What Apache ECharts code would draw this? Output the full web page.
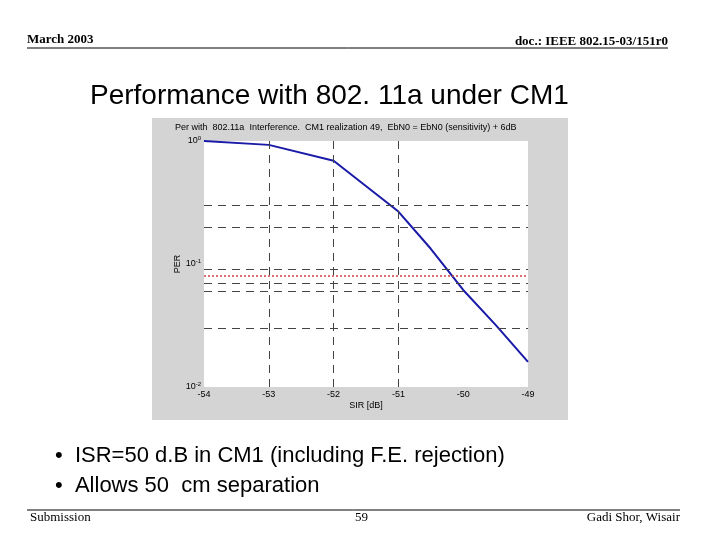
<!DOCTYPE html>
<html>
<head>
<meta charset="utf-8">
<script src="https://cdn.jsdelivr.net/npm/echarts@6/dist/echarts.min.js"></script>
<style>body{margin:0;background:#fff}#chart{width:720px;height:540px}</style>
</head>
<body>
<div id="chart"></div>
<script>
const sir = [-54, -53, -52, -51, -50.5, -50, -49.5, -49];
const per = [1.0, 0.93, 0.69, 0.267, 0.133, 0.0615, 0.032, 0.016];
const dashedLevels = [0.3, 0.2, 0.09, 0.07, 0.06, 0.03];
const dashedX = [-53, -52, -51];
const redLevel = 0.08;
const bullets = ['ISR=50 d.B in CM1 (including F.E. rejection)', 'Allows 50  cm separation'];

const chart = echarts.init(document.getElementById('chart'));
const serif = 'Liberation Serif';
const sans = 'Liberation Sans';
const dash = { color: '#444', type: [8, 6], width: 1 };

chart.setOption({
    animation: false,
    grid: { left: 204, right: 192, top: 141, bottom: 153 },
    xAxis: {
        type: 'value', min: -54, max: -49, interval: 1,
        name: 'SIR [dB]', nameLocation: 'middle', nameGap: 14,
        nameTextStyle: { fontFamily: sans, fontSize: 9, color: '#000' },
        axisLine: { show: false }, axisTick: { show: false },
        axisLabel: { fontFamily: sans, fontSize: 9, color: '#000', margin: 3 },
        splitLine: { show: false }
    },
    yAxis: {
        type: 'log', logBase: 10, min: 0.01, max: 1,
        name: 'PER', nameLocation: 'middle', nameGap: 12, nameRotate: 90,
        nameTextStyle: { fontFamily: sans, fontSize: 9, color: '#000' },
        axisLine: { show: false }, axisTick: { show: false },
        axisLabel: {
            fontFamily: sans, fontSize: 9, color: '#000', margin: 3,
            formatter: v => '10{s|' + Math.round(Math.log10(v)) + '}',
            rich: { s: { fontSize: 6, verticalAlign: 'top', padding: [0, 0, 6, 0] } }
        },
        splitLine: { show: false }
    },
    series: [{
        type: 'line', data: sir.map((x, i) => [x, per[i]]),
        symbol: 'none', lineStyle: { color: '#1a1aa8', width: 2 },
        markLine: {
            silent: true, symbol: 'none', label: { show: false },
            data: dashedLevels.map(v => ({ yAxis: v, lineStyle: dash }))
                .concat(dashedX.map(v => ({ xAxis: v, lineStyle: dash })))
                .concat([{ yAxis: redLevel, lineStyle: { color: '#d04040', type: [2, 2], width: 1.5 } }])
        }
    }],
    graphic: [
        { type: 'rect', z: -10, shape: { x: 152, y: 118, width: 416, height: 302 }, style: { fill: '#d4d4d4' } },
        { type: 'rect', z: -9, shape: { x: 204, y: 141, width: 324, height: 246 }, style: { fill: '#fff' } },
        { type: 'text', left: 175, top: 123, style: { text: 'Per with  802.11a  Interference.  CM1 realization 49,  EbN0 = EbN0 (sensitivity) + 6dB', font: '9px ' + sans, fill: '#000' } },
        { type: 'text', left: 27, top: 33, style: { text: 'March 2003', font: 'bold 13px ' + serif, fill: '#000' } },
        { type: 'text', right: 52, top: 35, style: { text: 'doc.: IEEE 802.15-03/151r0', font: 'bold 13px ' + serif, fill: '#000' } },
        { type: 'line', shape: { x1: 27, y1: 48, x2: 668, y2: 48 }, style: { stroke: '#000', lineWidth: 1 } },
        { type: 'text', left: 90, top: 82, style: { text: 'Performance with 802. 11a under CM1', font: '28px ' + sans, fill: '#000' } },
        { type: 'text', left: 55, top: 445, style: { text: '•  ' + bullets[0], font: '22px ' + sans, fill: '#000' } },
        { type: 'text', left: 55, top: 475, style: { text: '•  ' + bullets[1], font: '22px ' + sans, fill: '#000' } },
        { type: 'line', shape: { x1: 27, y1: 510, x2: 680, y2: 510 }, style: { stroke: '#000', lineWidth: 1 } },
        { type: 'text', left: 30, top: 511, style: { text: 'Submission', font: '13px ' + serif, fill: '#000' } },
        { type: 'text', left: 355, top: 511, style: { text: '59', font: '13px ' + serif, fill: '#000' } },
        { type: 'text', right: 40, top: 511, style: { text: 'Gadi Shor, Wisair', font: '13px ' + serif, fill: '#000' } }
    ]
});
</script>
</body>
</html>
